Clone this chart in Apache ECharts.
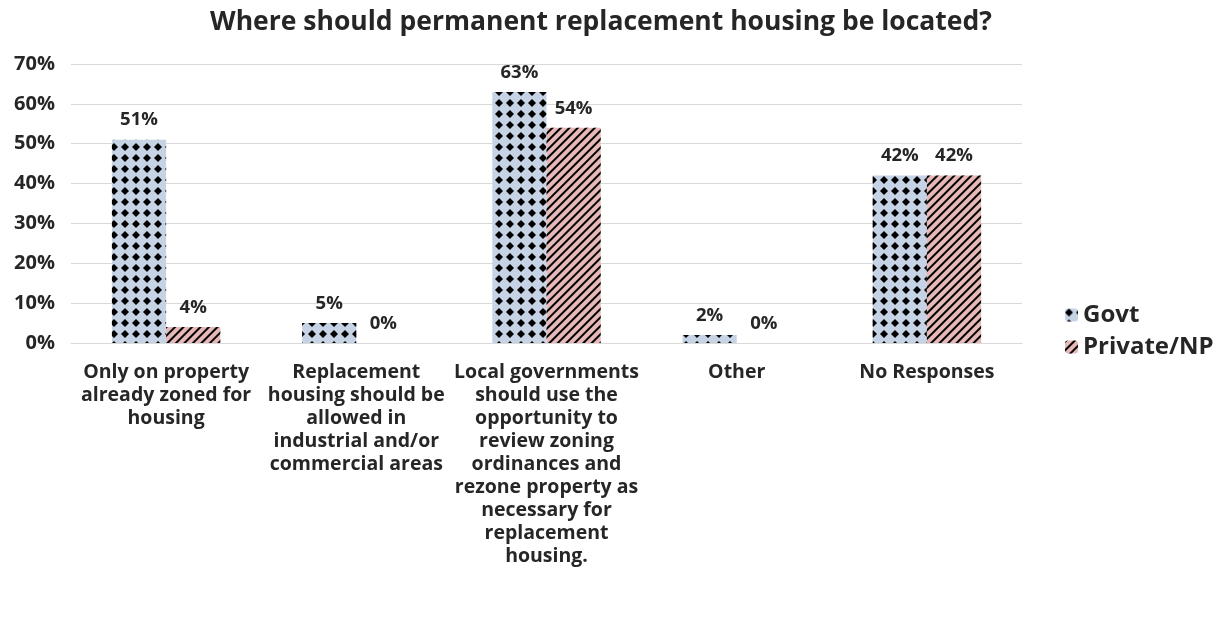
<!DOCTYPE html>
<html>
<head>
<meta charset="utf-8">
<script src="https://cdn.jsdelivr.net/npm/echarts@6/dist/echarts.min.js"></script>
<style>html,body{margin:0;padding:0;background:#fff}#c{width:1230px;height:619px}</style>
</head>
<body>
<div id="c"></div>
<script>
const categories = [
  "Only on property\nalready zoned for\nhousing",
  "Replacement\nhousing should be\nallowed in\nindustrial and/or\ncommercial areas",
  "Local governments\nshould use the\nopportunity to\nreview zoning\nordinances and\nrezone property as\nnecessary for\nreplacement\nhousing.",
  "Other",
  "No Responses"
];
const govt = [51, 5, 63, 2, 42];
const privateNP = [4, 0, 54, 0, 42];
const yTicks = [0, 10, 20, 30, 40, 50, 60, 70];

const FONT = '"Open Sans"';
const TXT = '#262626';
const chart = echarts.init(document.getElementById('c'), null, {renderer: 'canvas'});
const labelCfg = {
  show: true, position: 'top', distance: 10,
  formatter: p => p.value + '%',
  fontFamily: FONT, fontWeight: 'bold', fontSize: 18.5, color: TXT
};
chart.setOption({
  animation: false,
  title: {
    text: 'Where should permanent replacement housing be located?',
    left: 596, top: 4, textAlign: 'center',
    textStyle: {fontFamily: FONT, fontWeight: 'bold', fontSize: 26.5, color: TXT}
  },
  legend: {
    orient: 'vertical', left: 1060, top: 298,
    itemWidth: 13, itemHeight: 13, itemGap: 8,
    textStyle: {fontFamily: FONT, fontWeight: 'bold', fontSize: 24, color: TXT},
    data: ['Govt', 'Private/NP']
  },
  grid: {left: 71, right: 208, top: 64, bottom: 276, containLabel: false},
  xAxis: {
    type: 'category', data: categories,
    axisTick: {show: false},
    axisLine: {lineStyle: {color: '#d9d9d9'}},
    axisLabel: {fontFamily: FONT, fontWeight: 'bold', fontSize: 19.5, color: TXT, lineHeight: 23, margin: 18, interval: 0, align: 'center'}
  },
  yAxis: {
    type: 'value', min: yTicks[0], max: yTicks[yTicks.length - 1], interval: 10,
    axisLine: {show: false}, axisTick: {show: false},
    splitLine: {lineStyle: {color: '#d9d9d9'}},
    axisLabel: {formatter: '{value}%', fontFamily: FONT, fontWeight: 'bold', fontSize: 20, color: TXT, margin: 16}
  },
  series: [
    {
      name: 'Govt', type: 'bar', data: govt, barGap: '0%', barCategoryGap: '43%',
      itemStyle: {
        color: '#c5d3e5',
        decal: {symbol: 'diamond', symbolSize: 1, color: '#000000', dashArrayX: [8, 3], dashArrayY: [8, 3], rotation: 0}
      },
      label: labelCfg
    },
    {
      name: 'Private/NP', type: 'bar', data: privateNP,
      itemStyle: {
        color: '#e6b9b8',
        decal: {symbol: 'rect', symbolSize: 1, color: '#000000', dashArrayX: [1, 0], dashArrayY: [2, 4], rotation: -Math.PI / 4}
      },
      label: labelCfg
    }
  ]
});
</script>
</body>
</html>
